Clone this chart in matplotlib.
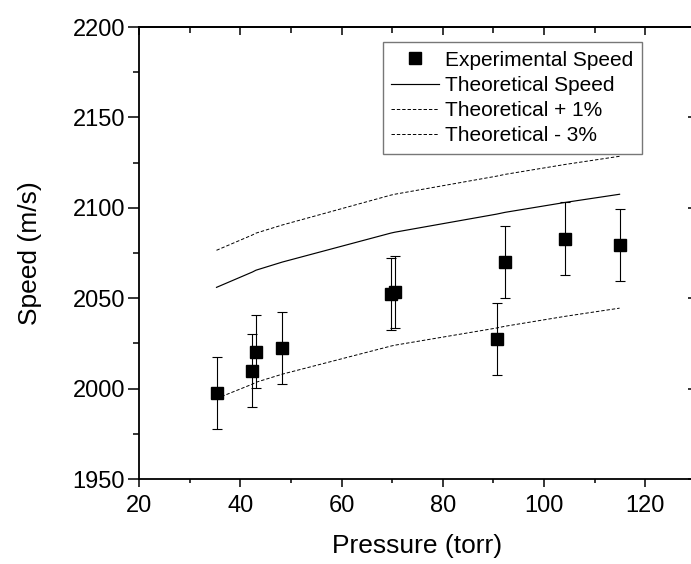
"""
Speed vs pressure: experimental points with theoretical curves
"""

import matplotlib
matplotlib.use('Agg')
import matplotlib.pyplot as plt
from matplotlib.ticker import MultipleLocator

plt.rcParams['font.family'] = ['Liberation Sans', 'DejaVu Sans']

# data
pressure = [35.3, 42.4, 43.1, 48.3, 69.7, 70.5, 90.6, 92.3, 104.2, 114.9]
speed_exp = [1997.5, 2010.0, 2020.5, 2022.5, 2052.5, 2053.5, 2027.5, 2070.0, 2083.0, 2079.5]
speed_err = [20, 20, 20, 20, 20, 20, 20, 20, 20, 20]
speed_theory = [2056.0, 2064.5, 2065.5, 2070.0, 2086.0, 2086.5, 2096.5, 2097.5, 2103.0, 2107.5]
speed_plus1 = [2076.5, 2085.0, 2086.0, 2090.5, 2107.0, 2107.5, 2117.5, 2118.5, 2124.0, 2128.5]
speed_minus3 = [1994.5, 2002.5, 2003.5, 2008.0, 2023.5, 2024.0, 2033.5, 2034.5, 2040.0, 2044.5]

fig = plt.figure(figsize=(6.91, 5.64), dpi=100)
ax = fig.add_axes([0.2012, 0.1507, 0.8061, 0.8014])

dash = (0, (3.5, 2.0))
ax.plot(pressure, speed_theory, color='black', lw=0.85, label='Theoretical Speed', zorder=2)
ax.plot(pressure, speed_plus1, color='black', lw=0.7, ls=dash, label='Theoretical + 1%', zorder=2)
ax.plot(pressure, speed_minus3, color='black', lw=0.7, ls=dash, label='Theoretical - 3%', zorder=2)

ax.errorbar(pressure, speed_exp, yerr=speed_err, fmt='none', ecolor='black',
            elinewidth=0.8, capsize=3.6, capthick=0.8, zorder=3)
ax.plot(pressure, speed_exp, ls='none', marker='s', ms=8, color='black',
        label='Experimental Speed', zorder=4)

ax.set_xlim(20, 130)
ax.set_ylim(1950, 2200)
ax.xaxis.set_major_locator(MultipleLocator(20))
ax.xaxis.set_minor_locator(MultipleLocator(10))
ax.yaxis.set_major_locator(MultipleLocator(50))
ax.yaxis.set_minor_locator(MultipleLocator(25))

for s in ax.spines.values():
    s.set_linewidth(1.3)

ax.tick_params(axis='x', which='major', direction='out', length=5.5, width=1.1,
               labelsize=17, pad=6)
ax.tick_params(axis='x', which='minor', direction='out', length=3, width=1.1)
ax.tick_params(axis='y', which='major', direction='out', length=8, width=1.1,
               labelsize=17, pad=2)
ax.tick_params(axis='y', which='minor', direction='out', length=4, width=1.1)

# mirrored ticks pointing inward on top and right
top = ax.secondary_xaxis('top')
top.xaxis.set_major_locator(MultipleLocator(20))
top.xaxis.set_minor_locator(MultipleLocator(10))
top.tick_params(which='major', direction='in', length=6, width=1.1, labeltop=False)
top.tick_params(which='minor', direction='in', length=4, width=1.1)
top.spines['top'].set_linewidth(1.3)

right = ax.secondary_yaxis('right')
right.yaxis.set_major_locator(MultipleLocator(50))
right.tick_params(which='major', direction='in', length=6, width=1.1, labelright=False)
right.spines['right'].set_linewidth(1.3)

ax.set_xlabel('Pressure (torr)', fontsize=19, labelpad=12)
ax.set_ylabel('Speed (m/s)', fontsize=19, labelpad=22)

handles, labels = ax.get_legend_handles_labels()
order = [3, 0, 1, 2]
leg = ax.legend([handles[i] for i in order], [labels[i] for i in order],
                loc='upper right', bbox_to_anchor=(0.9025, 0.966), borderaxespad=0,
                fontsize=15, frameon=True, fancybox=False, handlelength=2.3,
                handletextpad=0.3, labelspacing=0.3, borderpad=0.4)
leg.get_frame().set_edgecolor('#555555')
leg.get_frame().set_linewidth(1.0)

fig.savefig('out.png', dpi=100, facecolor='white')
